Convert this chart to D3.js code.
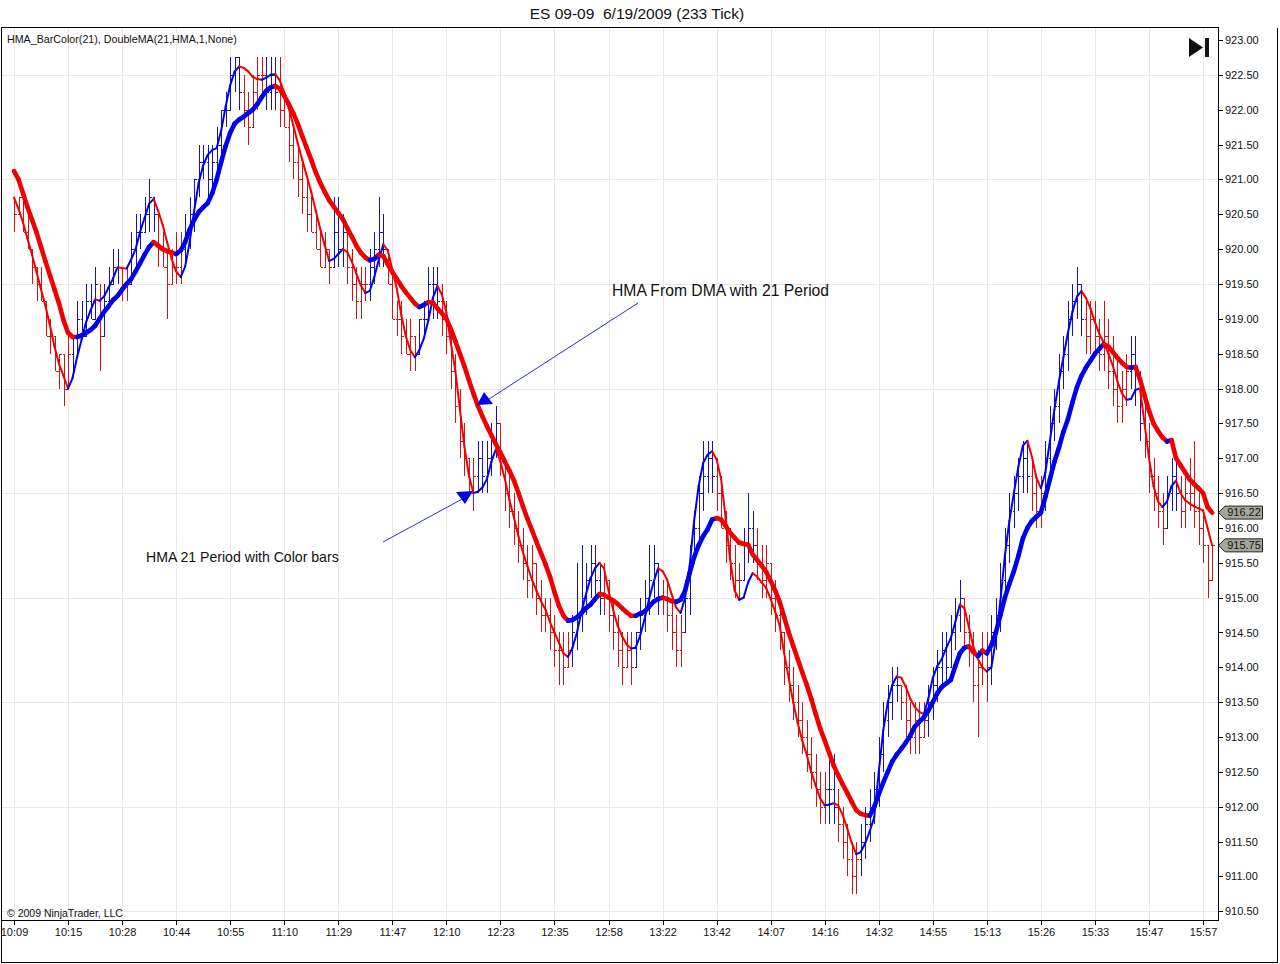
<!DOCTYPE html>
<html>
<head>
<meta charset="utf-8">
<script src="https://cdn.jsdelivr.net/npm/d3@7"></script>
<style>
  html, body { margin: 0; padding: 0; background: #fff; }
  svg { display: block; font-family: "Liberation Sans", Arial, sans-serif; }
</style>
</head>
<body>
<div id="chart"></div>
<script>
// ES 09-09 233 tick chart, HMA bar colors + double HMA
const timeLabels = ['10:09','10:15','10:28','10:44','10:55','11:10','11:29','11:47','12:10','12:23','12:35','12:58',
  '13:22','13:42','14:07','14:16','14:32','14:55','15:13','15:26','15:33','15:47','15:57'];
const labelBars = [0,12,24,36,48,60,72,84,96,108,120,132,144,156,168,180,192,204,216,228,240,252,264];
const priceTicks = [923.0,922.5,922.0,921.5,921.0,920.5,920.0,919.5,919.0,918.5,918.0,917.5,917.0,
  916.5,916.0,915.5,915.0,914.5,914.0,913.5,913.0,912.5,912.0,911.5,911.0,910.5];
const gridPrices = [922.5,921.0,919.5,918.0,916.5,915.0,913.5,912.0,910.5];

const barOpen = [
920.75,920.50,920.75,920.25,920.00,919.75,919.50,919.25,918.75,918.75,918.25,918.50,918.00,918.50,918.75,919.00,918.75,919.25,919.00,919.25,
918.75,919.25,919.50,919.75,919.75,919.50,919.50,920.00,920.25,920.25,920.50,920.75,920.50,920.00,919.75,919.50,919.75,919.75,920.00,920.25,
920.50,921.00,921.25,921.25,921.00,921.25,921.50,922.00,922.00,922.50,922.75,922.25,922.00,921.75,922.25,922.50,922.50,922.25,922.50,922.25,
922.00,921.75,921.50,921.25,921.00,920.75,920.50,920.25,920.00,919.75,920.00,919.75,920.25,920.00,920.25,919.75,919.50,919.25,919.50,919.50,
919.75,920.00,920.25,920.00,919.50,919.00,919.00,918.75,918.50,918.75,918.50,919.00,919.00,919.50,919.50,919.25,919.00,918.75,918.25,917.75,
917.25,917.00,916.50,916.75,917.00,916.75,917.00,917.25,917.50,917.00,916.50,916.25,916.00,915.75,915.50,915.25,915.50,915.00,914.75,914.75,
914.50,914.25,914.25,914.00,914.25,914.50,914.75,915.00,915.25,915.50,915.25,915.00,915.25,914.75,914.50,914.25,914.00,914.25,914.00,914.50,
914.75,915.00,915.25,915.50,915.00,915.00,914.75,914.50,914.25,914.50,915.00,915.50,916.00,916.50,916.75,917.00,916.75,916.50,916.00,915.75,
915.50,915.25,915.25,915.75,916.00,915.75,915.50,915.25,915.50,915.00,914.75,914.50,914.00,913.75,913.50,913.25,913.00,912.75,912.50,912.25,
912.00,912.25,912.25,912.00,911.75,911.50,911.25,911.00,911.25,911.50,911.75,912.00,912.25,912.75,913.25,913.50,913.75,913.75,913.50,913.25,
913.00,913.25,913.00,913.25,913.50,913.75,914.00,914.25,914.00,914.50,914.75,915.00,914.50,914.25,913.75,914.00,914.25,914.00,914.50,914.75,
915.25,915.75,916.25,916.50,916.75,917.00,916.75,916.50,916.25,916.50,917.00,917.50,917.75,918.25,918.50,919.00,919.25,919.50,919.00,918.75,
919.00,918.75,918.50,918.75,918.25,918.00,917.75,918.00,918.25,918.50,918.00,917.50,917.25,916.75,916.50,916.25,916.00,916.50,916.75,916.50,
916.25,916.50,916.50,916.25,916.00,915.75,915.25];
const barHigh = [
920.75,920.75,920.75,920.50,920.00,919.75,919.75,919.25,919.00,918.75,918.50,918.50,918.75,918.75,919.25,919.25,919.50,919.50,919.75,919.50,
919.50,919.75,920.00,920.00,919.75,919.75,920.25,920.50,920.50,920.75,921.00,920.75,920.50,920.25,920.00,920.00,920.25,920.25,920.50,920.75,
921.00,921.50,921.50,921.50,921.50,921.75,922.00,922.25,922.75,922.75,922.75,922.50,922.25,922.50,922.75,922.75,922.75,922.75,922.75,922.75,
922.25,922.00,921.75,921.50,921.25,921.00,920.75,920.50,920.25,920.25,920.00,920.75,920.75,920.50,920.25,920.00,919.75,919.75,919.75,920.00,
920.25,920.75,920.50,920.00,919.75,919.25,919.25,919.00,919.00,918.75,919.00,919.25,919.75,919.75,919.75,919.50,919.25,918.75,918.50,918.00,
917.50,917.00,917.00,917.25,917.25,917.25,917.50,917.75,917.50,917.00,916.75,916.50,916.25,916.00,915.75,915.75,915.50,915.25,915.00,915.00,
914.75,914.50,914.50,914.50,914.75,915.50,915.75,915.50,915.75,915.75,915.50,915.50,915.25,915.00,914.75,914.50,914.50,914.50,914.50,915.00,
915.25,915.75,915.75,915.50,915.25,915.25,915.00,914.75,914.75,915.25,915.75,916.25,916.75,917.25,917.25,917.25,917.00,916.75,916.25,916.00,
915.75,915.50,916.00,916.50,916.25,916.00,915.75,915.75,915.50,915.25,915.00,914.50,914.25,914.00,913.75,913.50,913.25,913.00,912.75,912.50,
912.50,912.75,912.75,912.25,912.00,911.75,911.50,911.50,911.75,912.00,912.25,912.50,913.00,913.50,913.75,914.00,914.00,913.75,913.75,913.50,
913.50,913.50,913.50,913.75,914.00,914.25,914.50,914.50,914.75,915.00,915.25,915.00,914.75,914.50,914.25,914.50,914.50,914.75,915.00,915.50,
916.00,916.50,916.75,917.00,917.25,917.25,917.00,916.75,916.75,917.25,917.75,918.00,918.50,918.75,919.25,919.50,919.75,919.50,919.25,919.25,
919.25,919.00,919.25,919.00,918.75,918.50,918.25,918.50,918.75,918.75,918.25,917.75,917.50,917.00,916.75,916.50,916.75,917.00,917.00,916.75,
916.75,917.00,917.25,916.50,916.25,915.75,915.75];
const barLow = [
920.25,920.50,920.25,920.00,919.50,919.25,919.25,918.75,918.50,918.25,918.00,917.75,918.00,918.25,918.50,918.75,918.75,919.00,919.00,918.25,
918.75,919.25,919.50,919.50,919.25,919.25,919.50,919.75,920.00,920.25,920.25,920.25,919.75,919.75,919.00,919.50,919.50,919.50,919.75,920.00,
920.25,920.75,921.00,920.75,920.75,921.00,921.25,921.75,922.00,922.25,922.00,921.75,921.50,921.75,922.00,922.25,922.00,922.00,922.00,921.75,
921.75,921.25,921.00,920.75,920.50,920.25,920.25,920.00,919.75,919.75,919.50,919.75,919.75,919.75,919.50,919.25,919.00,919.00,919.25,919.25,
919.50,919.75,919.75,919.50,919.00,918.75,918.50,918.50,918.25,918.25,918.50,918.75,919.00,919.00,919.00,918.75,918.50,918.00,917.50,917.00,
916.75,916.50,916.25,916.50,916.50,916.50,916.75,917.00,916.75,916.25,916.00,915.75,915.50,915.25,915.00,915.00,914.75,914.50,914.50,914.25,
914.00,913.75,913.75,914.00,914.00,914.25,914.50,914.75,915.00,915.00,914.75,914.75,914.50,914.25,914.00,913.75,914.00,913.75,914.00,914.25,
914.50,914.75,915.00,914.75,914.75,914.50,914.25,914.00,914.00,914.50,914.75,915.50,915.75,916.25,916.50,916.50,916.25,916.00,915.50,915.25,
915.00,915.00,915.25,915.50,915.50,915.25,915.00,915.00,914.75,914.50,914.25,913.75,913.50,913.25,913.00,912.75,912.50,912.25,912.00,911.75,
911.75,911.75,911.75,911.50,911.25,911.00,910.75,910.75,911.00,911.25,911.50,911.75,912.00,912.50,913.00,913.25,913.50,913.25,913.00,912.75,
912.75,912.75,913.00,913.00,913.25,913.50,913.75,913.75,914.00,914.25,914.50,914.25,914.00,913.50,913.00,913.75,913.50,913.75,914.25,914.50,
915.00,915.50,916.00,916.25,916.50,916.50,916.25,916.00,916.00,916.25,916.75,917.25,917.50,918.00,918.25,918.75,919.00,918.75,918.50,918.50,
918.50,918.25,918.25,918.00,917.75,917.50,917.50,917.75,918.00,917.75,917.25,917.00,916.50,916.25,916.00,915.75,916.00,916.25,916.25,916.00,
916.00,916.25,916.00,915.75,915.50,915.00,915.25];
const barClose = [
920.50,920.75,920.25,920.00,919.75,919.50,919.25,918.75,918.75,918.25,918.50,918.00,918.50,918.75,919.00,918.75,919.25,919.00,919.50,918.75,
919.25,919.50,919.75,919.75,919.50,919.50,920.00,920.25,920.25,920.50,920.75,920.50,920.00,919.75,919.50,919.75,919.75,920.00,920.25,920.50,
921.00,921.25,921.25,921.00,921.25,921.50,922.00,922.00,922.50,922.75,922.25,922.00,921.75,922.25,922.50,922.50,922.25,922.50,922.25,922.00,
921.75,921.50,921.25,921.00,920.75,920.50,920.25,920.00,919.75,920.00,919.75,920.25,920.00,920.25,919.75,919.50,919.25,919.50,919.50,919.75,
920.00,920.25,920.00,919.50,919.00,919.00,918.75,918.50,918.75,918.50,919.00,919.00,919.50,919.50,919.25,919.00,918.75,918.25,917.75,917.25,
917.00,916.50,916.75,917.00,916.75,917.00,917.25,917.50,917.00,916.50,916.25,916.00,915.75,915.50,915.25,915.50,915.00,914.75,914.75,914.50,
914.25,914.25,914.00,914.25,914.50,914.75,915.00,915.25,915.50,915.25,915.00,915.25,914.75,914.50,914.25,914.00,914.25,914.00,914.50,914.75,
915.00,915.25,915.50,915.00,915.00,914.75,914.50,914.25,914.50,915.00,915.50,916.00,916.50,916.75,917.00,916.75,916.50,916.00,915.75,915.50,
915.25,915.25,915.75,916.00,915.75,915.50,915.25,915.50,915.00,914.75,914.50,914.00,913.75,913.50,913.25,913.00,912.75,912.50,912.25,912.00,
912.25,912.25,912.00,911.75,911.50,911.25,911.00,911.25,911.50,911.75,912.00,912.25,912.75,913.25,913.50,913.75,913.75,913.50,913.25,913.00,
913.25,913.00,913.25,913.50,913.75,914.00,914.25,914.00,914.50,914.75,915.00,914.50,914.25,913.75,914.00,914.25,914.00,914.50,914.75,915.25,
915.75,916.25,916.50,916.75,917.00,916.75,916.50,916.25,916.50,917.00,917.50,917.75,918.25,918.50,919.00,919.25,919.50,919.00,918.75,919.00,
918.75,918.50,918.75,918.25,918.00,917.75,918.00,918.25,918.50,918.00,917.50,917.25,916.75,916.50,916.25,916.00,916.50,916.75,916.50,916.25,
916.50,916.50,916.25,916.00,915.75,915.25,915.75];

// HMA_BarColor(21) - thin line per bar
const hmaFast = [
920.74,920.58,920.38,920.15,919.92,919.67,919.42,919.18,918.90,918.60,918.35,918.18,918.00,918.15,918.45,918.70,918.95,919.12,919.28,919.26,
919.32,919.45,919.58,919.74,919.73,919.72,919.85,920.00,920.25,920.45,920.65,920.72,920.55,920.35,920.10,919.86,919.68,919.60,919.75,920.10,
920.55,920.95,921.20,921.35,921.42,921.45,921.70,922.05,922.35,922.55,922.62,922.60,922.55,922.47,922.44,922.43,922.46,922.50,922.51,922.42,
922.25,922.02,921.78,921.52,921.28,921.05,920.82,920.55,920.29,920.05,919.83,919.86,919.93,920.00,919.96,919.82,919.65,919.48,919.37,919.40,
919.60,919.85,920.07,919.98,919.70,919.43,919.05,918.75,918.55,918.45,918.55,918.72,918.98,919.30,919.47,919.35,919.09,918.65,918.25,917.70,
917.17,916.75,916.50,916.52,916.58,916.70,916.95,917.13,916.95,916.70,916.40,916.15,915.88,915.65,915.45,915.26,915.10,914.95,914.83,914.65,
914.50,914.35,914.20,914.15,914.28,914.50,914.80,915.05,915.28,915.42,915.50,915.42,915.10,914.83,914.60,914.45,914.33,914.27,914.28,914.45,
914.69,914.98,915.22,915.42,915.38,915.26,915.05,914.86,914.78,915.00,915.45,916.10,916.60,916.93,917.05,917.10,916.98,916.70,916.15,915.55,
915.10,914.97,915.00,915.22,915.35,915.30,915.22,915.14,914.98,914.80,914.60,914.20,913.85,913.50,913.20,912.95,912.75,912.50,912.30,912.12,
912.02,912.03,912.05,912.02,911.88,911.69,911.48,911.32,911.35,911.48,911.65,911.85,912.50,913.10,913.50,913.75,913.87,913.85,913.72,913.55,
913.43,913.36,913.33,913.55,913.85,914.02,914.12,914.28,914.42,914.65,914.90,914.85,914.58,914.30,914.12,914.00,913.94,914.00,914.40,914.95,
915.60,916.10,916.50,916.88,917.18,917.25,917.02,916.72,916.57,916.80,917.25,917.70,918.10,918.45,918.80,919.10,919.32,919.40,919.30,919.15,
918.95,918.78,918.65,918.50,918.32,918.10,917.93,917.84,917.85,917.98,918.00,917.50,917.00,916.60,916.38,916.30,916.38,916.60,916.68,916.50,
916.40,916.35,916.31,916.28,916.25,916.00,915.75];

// DoubleMA(21,HMA) - thick line
const hmaSlow = [
921.12,921.00,920.80,920.60,920.42,920.24,920.03,919.82,919.62,919.42,919.22,918.98,918.80,918.74,918.74,918.76,918.80,918.84,918.90,919.00,
919.10,919.18,919.27,919.33,919.42,919.50,919.57,919.68,919.80,919.92,920.03,920.10,920.05,920.00,919.97,919.95,919.93,919.98,920.10,920.28,
920.42,920.53,920.60,920.66,920.80,921.00,921.25,921.48,921.67,921.80,921.86,921.90,921.95,922.00,922.08,922.18,922.27,922.32,922.34,922.30,
922.20,922.08,921.95,921.80,921.62,921.45,921.28,921.10,920.95,920.82,920.70,920.61,920.52,920.43,920.30,920.18,920.05,919.95,919.88,919.84,
919.86,919.92,919.90,919.78,919.67,919.57,919.47,919.38,919.30,919.22,919.17,919.20,919.24,919.23,919.15,919.08,919.00,918.85,918.68,918.50,
918.32,918.12,917.93,917.75,917.60,917.46,917.33,917.20,917.08,916.95,916.82,916.68,916.50,916.31,916.13,915.97,915.80,915.64,915.48,915.30,
915.08,914.88,914.74,914.67,914.68,914.72,914.78,914.85,914.90,914.98,915.05,915.04,915.00,914.96,914.91,914.85,914.79,914.74,914.74,914.77,
914.80,914.87,914.94,914.98,915.00,914.98,914.95,914.94,914.97,915.10,915.35,915.58,915.75,915.88,915.98,916.12,916.14,916.12,916.03,915.93,
915.86,915.79,915.77,915.76,915.62,915.54,915.46,915.37,915.24,915.10,914.94,914.72,914.50,914.31,914.12,913.93,913.75,913.55,913.33,913.12,
912.95,912.77,912.59,912.45,912.32,912.20,912.07,911.95,911.90,911.88,911.87,912.00,912.18,912.35,912.50,912.65,912.75,912.83,912.92,913.02,
913.15,913.22,913.28,913.38,913.50,913.63,913.72,913.77,913.82,914.02,914.20,914.28,914.30,914.22,914.16,914.24,914.20,914.32,914.50,914.75,
915.00,915.20,915.38,915.60,915.85,916.00,916.10,916.16,916.22,916.45,916.70,916.95,917.15,917.38,917.56,917.80,918.02,918.18,918.30,918.40,
918.50,918.57,918.64,918.60,918.52,918.44,918.37,918.31,918.30,918.31,918.13,917.90,917.68,917.50,917.39,917.30,917.24,917.26,917.00,916.90,
916.80,916.70,916.63,916.57,916.50,916.30,916.22];

const W = 1280, H = 964;
const plot = { left: 1, top: 27, right: 1218, bottom: 920 };
const UP = '#0000f0', DOWN = '#f00000';
const BAR_UP = '#1414b4', BAR_DOWN = '#d01414';

const svg = d3.select('#chart').append('svg')
  .attr('width', W).attr('height', H);

const x = d3.scaleLinear().domain([0, 266]).range([14, 14 + 266 * 4.504]);
const y = d3.scaleLinear().domain([910.5, 923]).range([911.3, 40.0]);

// grid
const grid = svg.append('g').attr('stroke', '#ebe7e1').attr('stroke-width', 1).attr('shape-rendering', 'crispEdges');
grid.selectAll('line.v').data(labelBars).enter().append('line')
  .attr('x1', d => Math.round(x(d)) + 0.5).attr('x2', d => Math.round(x(d)) + 0.5)
  .attr('y1', plot.top).attr('y2', plot.bottom);
grid.selectAll('line.h').data(gridPrices).enter().append('line')
  .attr('x1', plot.left).attr('x2', plot.right)
  .attr('y1', d => Math.round(y(d)) + 0.5).attr('y2', d => Math.round(y(d)) + 0.5);

// OHLC bars, coloured by direction of the fast HMA
const bars = svg.append('g').attr('stroke-width', 1).attr('shape-rendering', 'crispEdges').attr('fill', 'none');
const barIdx = d3.range(barClose.length);
const barColor = i => (i > 0 && hmaFast[i] > hmaFast[i - 1]) ? BAR_UP : BAR_DOWN;
bars.selectAll('path').data(barIdx).enter().append('path')
  .attr('stroke', barColor)
  .attr('d', i => {
    const cx = Math.round(x(i)) + 0.5;
    const yo = Math.round(y(barOpen[i])) + 0.5, yc = Math.round(y(barClose[i])) + 0.5;
    return `M${cx},${y(barHigh[i])}V${y(barLow[i])}M${cx - 2},${yo}H${cx}M${cx},${yc}H${cx + 2}`;
  });

// moving average lines drawn per segment so each can take the slope colour
function drawMA(values, width) {
  const segs = d3.range(1, values.length).map(i => ({ i, up: values[i] > values[i - 1] }));
  svg.append('g').selectAll('line').data(segs).enter().append('line')
    .attr('x1', d => x(d.i - 1)).attr('y1', d => y(values[d.i - 1]))
    .attr('x2', d => x(d.i)).attr('y2', d => y(values[d.i]))
    .attr('stroke', d => d.up ? UP : DOWN)
    .attr('stroke-width', width)
    .attr('stroke-linecap', 'round');
}
drawMA(hmaFast, 2);
drawMA(hmaSlow, 4.6);

// annotations
const ann = svg.append('g');
ann.append('line').attr('x1', 638).attr('y1', 303).attr('x2', 489).attr('y2', 399)
  .attr('stroke', '#2c2cd8').attr('stroke-width', 1);
ann.append('line').attr('x1', 383).attr('y1', 542).attr('x2', 466).attr('y2', 497)
  .attr('stroke', '#2c2cd8').attr('stroke-width', 1);
ann.append('path').attr('d', 'M484,392L477,405L493,404Z').attr('fill', '#0000f0');
ann.append('path').attr('d', 'M456,492L473,491L465,504Z').attr('fill', '#0000f0');
ann.append('text').attr('x', 612).attr('y', 295.5).attr('font-size', '15.7px').attr('fill', '#111')
  .text('HMA From DMA with 21 Period');
ann.append('text').attr('x', 146).attr('y', 562).attr('font-size', '14.1px').attr('fill', '#111')
  .text('HMA 21 Period with Color bars');

// frame
const frame = svg.append('g').attr('stroke', '#000').attr('fill', 'none').attr('stroke-width', 1)
  .attr('shape-rendering', 'crispEdges');
frame.append('path').attr('d', `M1.5,962.5V${plot.top + 0.5}H${plot.right + 0.5}V${plot.bottom + 0.5}`);
frame.append('path').attr('d', `M1.5,${plot.bottom + 0.5}H${plot.right + 0.5}`);
frame.append('path').attr('d', `M1.5,962.5H1277.5V${plot.top + 0.5}`);

// x axis
const xAxis = d3.axisBottom(x).tickValues(labelBars)
  .tickFormat((d, i) => timeLabels[i]).tickSize(5).tickPadding(3);
const gx = svg.append('g').attr('transform', `translate(0,${plot.bottom})`).call(xAxis);
gx.select('.domain').remove();
gx.selectAll('.tick line').attr('shape-rendering', 'crispEdges').attr('stroke', '#000');
gx.selectAll('text').attr('font-size', '11px').attr('fill', '#111')
  .attr('font-family', '"Liberation Sans", Arial, sans-serif');

// y axis on the right
const yAxis = d3.axisRight(y).tickValues(priceTicks).tickFormat(d3.format('.2f')).tickSize(5).tickPadding(2);
const gy = svg.append('g').attr('transform', `translate(${plot.right},0)`).call(yAxis);
gy.select('.domain').remove();
gy.selectAll('.tick line').attr('shape-rendering', 'crispEdges').attr('stroke', '#000');
gy.selectAll('text').attr('font-size', '11px').attr('fill', '#111')
  .attr('font-family', '"Liberation Sans", Arial, sans-serif');

// last value markers
const lastVals = [hmaSlow[hmaSlow.length - 1], hmaFast[hmaFast.length - 1]];
const mk = svg.append('g').selectAll('g').data(lastVals).enter().append('g')
  .attr('transform', d => `translate(0,${y(d)})`);
mk.append('path').attr('d', 'M1218.5,0L1225,-6.5H1262.5V6.5H1225Z')
  .attr('fill', '#a6a59c').attr('stroke', '#222').attr('stroke-width', 1);
mk.append('text').attr('x', 1244).attr('y', 0).attr('dy', '0.35em').attr('text-anchor', 'middle')
  .attr('font-size', '11px').attr('fill', '#111').text(d3.format('.2f'));

// titles and labels
svg.append('text').attr('x', 637).attr('y', 19).attr('text-anchor', 'middle')
  .attr('font-size', '15.5px').attr('fill', '#111').style('white-space', 'pre')
  .text('ES 09-09  6/19/2009 (233 Tick)');
svg.append('text').attr('x', 7).attr('y', 43).attr('font-size', '10.7px').attr('fill', '#111')
  .text('HMA_BarColor(21), DoubleMA(21,HMA,1,None)');
svg.append('text').attr('x', 7).attr('y', 917).attr('font-size', '10.5px').attr('fill', '#111')
  .text('\u00a9 2009 NinjaTrader, LLC');

// "go to last bar" icon
svg.append('path').attr('d', 'M1189,38L1189,57L1203,47.5Z').attr('fill', '#111');
svg.append('rect').attr('x', 1205).attr('y', 38).attr('width', 4).attr('height', 19).attr('fill', '#111');
</script>
</body>
</html>
